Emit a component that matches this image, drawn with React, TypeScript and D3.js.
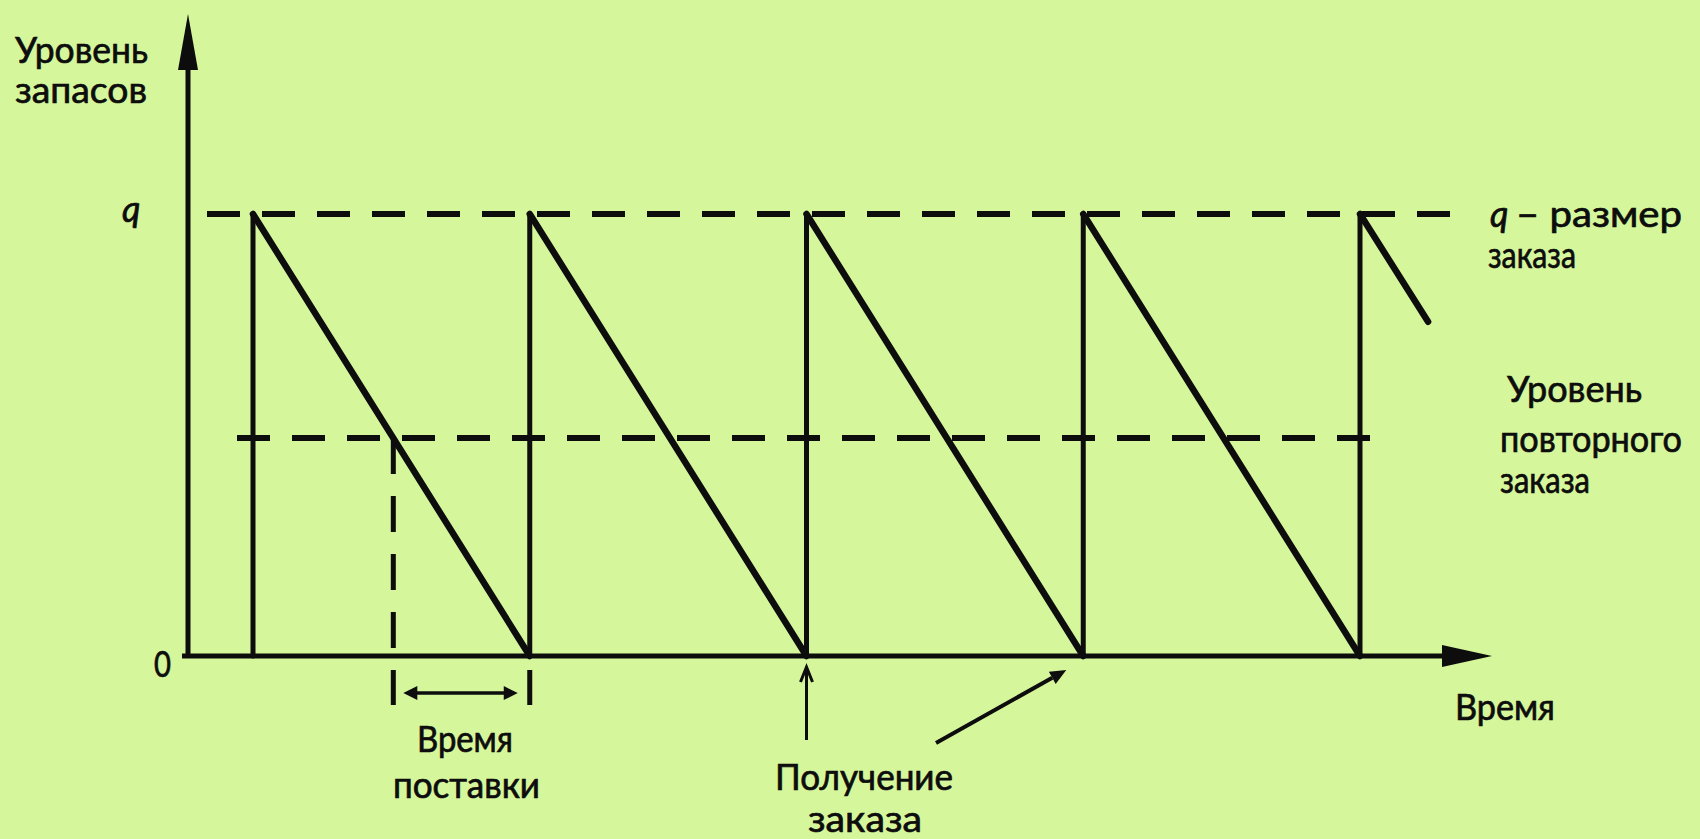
import React from "react";
import * as d3 from "d3";

// Inventory (sawtooth) model
const cycleTimes = [0, 0, 1, 1, 2, 2, 3, 3, 4, 4, 4.246];
const stockLevels = [0, 1, 0, 1, 0, 1, 0, 1, 0, 1, 0.756];
const orderSizeQ = 1;
const reorderLevel = 0.493;
const leadTimeStart = 0.507;
const leadTimeEnd = 1;
const receiptPointed = [2, 3];

const yAxisTitle = ["Уровень", "запасов"];
const qLabel = "q";
const zeroLabel = "0";
const qRightLabel = ["– размер", "заказа"];
const reorderLabel = ["Уровень", "повторного", "заказа"];
const leadTimeLabel = ["Время", "поставки"];
const receiptLabel = ["Получение", "заказа"];
const xAxisTitle = "Время";

export default function App() {
  const W = 1700, H = 839;
  const x = d3.scaleLinear().domain([0, 4]).range([253, 1360]);
  const y = d3.scaleLinear().domain([0, 1]).range([656, 214]);
  const pts: [number, number][] = cycleTimes.map((t, i) => [t, stockLevels[i]]);
  const segs = d3.pairs(pts);
  const line = d3.line<[number, number]>().x(d => x(d[0])).y(d => y(d[1]));

  const axisY = 656;
  const axisX = 188;
  const font = "Lato, 'Noto Sans', sans-serif";
  const ink = "#0d0d0d";

  const txt = (s: string, px: number, py: number, w: number, key: string, size = 36) => (
    <text key={key} x={px} y={py} textLength={w} lengthAdjust="spacingAndGlyphs"
      fontFamily={font} fontSize={size} fill={ink} stroke={ink} strokeWidth={0.7}>{s}</text>
  );

  const dash = "33 22";

  const rx = x(receiptPointed[0]);
  const rx2 = x(receiptPointed[1]);
  // diagonal pointer
  const p0 = [936, 743], p1 = [rx2 - 17, 670];
  const ang = Math.atan2(p1[1] - p0[1], p1[0] - p0[0]);
  const ah = 16, aw = 7;
  const tip = p1;
  const baseC = [tip[0] - ah * Math.cos(ang), tip[1] - ah * Math.sin(ang)];
  const headPts = [
    tip,
    [baseC[0] + aw * Math.sin(ang), baseC[1] - aw * Math.cos(ang)],
    [baseC[0] - aw * Math.sin(ang), baseC[1] + aw * Math.cos(ang)],
  ].map(p => p.join(",")).join(" ");

  const ltx0 = x(leadTimeStart), ltx1 = x(leadTimeEnd);

  return (
    <div style={{ position: "fixed", left: 0, top: 0, width: W, height: H }}>
      <svg width={W} height={H} style={{ display: "block" }}>
        <rect width={W} height={H} fill="#d5f69b" />

        {/* dashed reference lines */}
        <line x1={207} x2={1453} y1={y(orderSizeQ)} y2={y(orderSizeQ)} stroke={ink} strokeWidth={6} strokeDasharray={dash} />
        <line x1={237} x2={1372} y1={y(reorderLevel)} y2={y(reorderLevel)} stroke={ink} strokeWidth={6} strokeDasharray={dash} />
        <line x1={ltx0} x2={ltx0} y1={y(reorderLevel)} y2={705} stroke={ink} strokeWidth={5} strokeDasharray="36 22" />
        <line x1={ltx1} x2={ltx1} y1={670} y2={705} stroke={ink} strokeWidth={5} />

        {/* sawtooth */}
        {segs.map(([a, b], i) => (
          <path key={i} d={line([a, b]) || ""} stroke={ink}
            strokeWidth={a[0] === b[0] ? 5 : 6.5} fill="none" strokeLinecap="round" />
        ))}

        {/* axes */}
        <line x1={axisX} x2={axisX} y1={axisY + 2} y2={30} stroke={ink} strokeWidth={5} />
        <polygon points={`${axisX},14 ${axisX - 10},70 ${axisX + 10},70`} fill={ink} />
        <line x1={182} x2={1450} y1={axisY} y2={axisY} stroke={ink} strokeWidth={5} />
        <polygon points={`1492,${axisY} 1442,${axisY - 11} 1442,${axisY + 11}`} fill={ink} />

        {/* lead-time double arrow */}
        <line x1={ltx0 + 16} x2={ltx1 - 16} y1={693} y2={693} stroke={ink} strokeWidth={3.5} />
        <polygon points={`${ltx0 + 10},693 ${ltx0 + 24},686 ${ltx0 + 24},700`} fill={ink} />
        <polygon points={`${ltx1 - 12},693 ${ltx1 - 26},686 ${ltx1 - 26},700`} fill={ink} />

        {/* receipt pointers */}
        <line x1={rx} x2={rx} y1={740} y2={668} stroke={ink} strokeWidth={3} />
        <polyline points={`${rx - 6},682 ${rx},667 ${rx + 6},682`} fill="none" stroke={ink} strokeWidth={3} />
        <line x1={p0[0]} y1={p0[1]} x2={baseC[0]} y2={baseC[1]} stroke={ink} strokeWidth={4} />
        <polygon points={headPts} fill={ink} />

        {/* texts */}
        {txt(yAxisTitle[0], 15, 63, 133, "t1")}
        {txt(yAxisTitle[1], 15, 103, 132, "t2")}
        <text x={122} y={222} fontFamily={font} fontStyle="italic" fontSize={36} fill={ink} stroke={ink} strokeWidth={0.7}>{qLabel}</text>
        {txt(zeroLabel, 154, 677, 17, "z")}
        <text x={1490} y={227} fontFamily={font} fontSize={36} fill={ink} stroke={ink} strokeWidth={0.7}>
          <tspan fontStyle="italic">{qLabel}</tspan>
        </text>
        {txt(qRightLabel[0], 1516, 227, 166, "qr")}
        {txt(qRightLabel[1], 1488, 268, 88, "qr2")}
        {txt(reorderLabel[0], 1507, 402, 135, "r1")}
        {txt(reorderLabel[1], 1500, 452, 182, "r2")}
        {txt(reorderLabel[2], 1500, 493, 90, "r3")}
        {txt(xAxisTitle, 1455, 720, 100, "xt")}
        {txt(leadTimeLabel[0], 417, 752, 96, "l1")}
        {txt(leadTimeLabel[1], 393, 798, 147, "l2")}
        {txt(receiptLabel[0], 775, 790, 178, "g1")}
        {txt(receiptLabel[1], 808, 832, 114, "g2")}
      </svg>
    </div>
  );
}
